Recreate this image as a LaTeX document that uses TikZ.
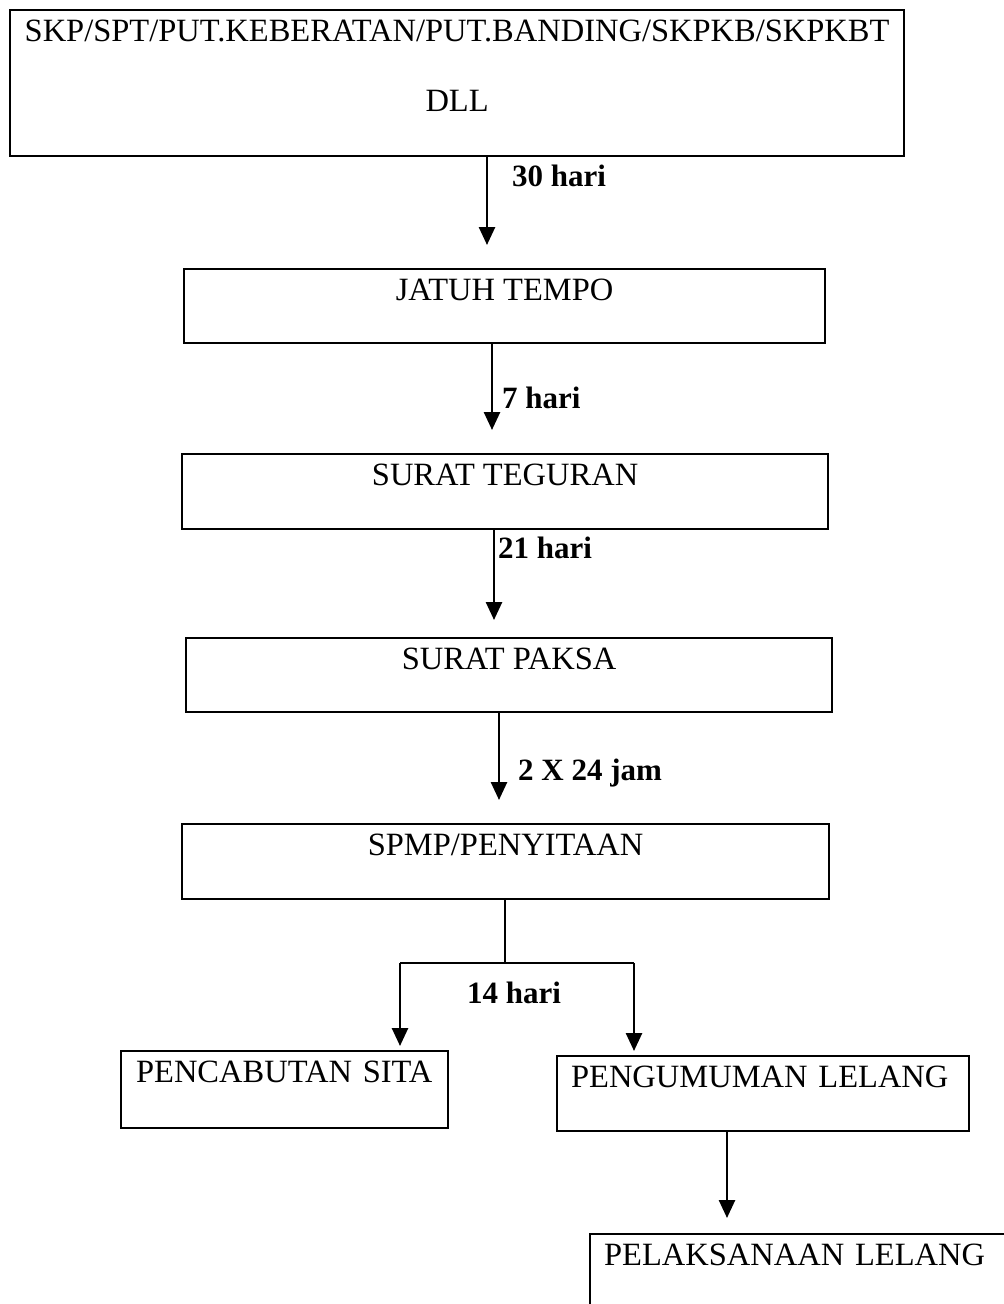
\documentclass[tikz,border=0pt]{standalone}
\usepackage{fontspec}
\setmainfont{Liberation Serif}
\usepackage{tikz}
\usetikzlibrary{arrows.meta, positioning}

\tikzset{
  stage/.style={draw, line width=2.2pt, anchor=north west, inner xsep=0pt, inner ysep=0pt,
    text height=31pt, font=\fontsize{32.5}{38}\selectfont},
  leftstage/.style={stage, align=left, inner xsep=14pt},
  flow/.style={-{Triangle[length=18pt,width=16pt]}, line width=2.6pt},
  gap/.style={font=\fontsize{31}{37}\selectfont\bfseries, anchor=base west, inner sep=0pt}
}

\begin{document}
\begin{tikzpicture}[x=1pt, y=-1pt]
  \useasboundingbox (0,0) rectangle (1004,1304);
  \clip (0,0) rectangle (1004,1304);

  % stages
  \node[stage, align=center, minimum width=894pt, text height=101pt, text depth=45pt] (skp) at (9,9)
    {SKP/SPT/PUT.KEBERATAN/PUT.BANDING/SKPKB/SKPKBT\\[32pt]DLL};
  \node[stage, minimum width=641pt, text depth=42.5pt] (jatuh) at (183,268) {JATUH TEMPO};
  \node[stage, minimum width=646pt, text depth=43.5pt] (teguran) at (181,453) {SURAT TEGURAN};
  \node[stage, minimum width=646pt, text depth=42.5pt] (paksa) at (185,637) {SURAT PAKSA};
  \node[stage, minimum width=647pt, text depth=43.5pt] (spmp) at (181,823) {SPMP/PENYITAAN};
  \node[leftstage, inner xsep=15pt, text width=297pt, text depth=45.5pt] (cabut) at (120,1050) {PENCABUTAN SITA};
  \node[leftstage, text width=384pt, text depth=44pt] (umum) at (556,1055) {PENGUMUMAN LELANG};
  \node[leftstage, text width=472pt, text depth=140pt] (laksana) at (589,1233) {PELAKSANAAN LELANG};

  % arrows
  \draw[flow, shorten >=23pt] (skp.south -| 487,0) -- (jatuh.north -| 487,0);
  \node[gap] at (512,186) {30 hari};
  \draw[flow, shorten >=23pt] (jatuh.south -| 492,0) -- (teguran.north -| 492,0);
  \node[gap] at (502,408) {7 hari};
  \draw[flow, shorten >=17pt] (teguran.south -| 494,0) -- (paksa.north -| 494,0);
  \node[gap] at (498,558) {21 hari};
  \draw[flow, shorten >=23pt] (paksa.south -| 499,0) -- (spmp.north -| 499,0);
  \node[gap] at (518,780) {2 X 24 jam};

  % split
  \coordinate (fork) at (505,963);
  \coordinate (forkL) at (400,963);
  \coordinate (forkR) at (634,963);
  \draw[line width=1.2pt] (spmp.south -| fork) -- (fork);
  \draw[line width=2.4pt] (forkL) -- (forkR);
  \draw[flow, shorten >=4pt] (forkL) -- (cabut.north -| forkL);
  \draw[flow, shorten >=4pt] (forkR) -- (umum.north -| forkR);
  \node[gap] at (467,1003) {14 hari};
  \draw[flow, shorten >=15pt] (umum.south -| 727,0) -- (laksana.north -| 727,0);
\end{tikzpicture}
\end{document}
